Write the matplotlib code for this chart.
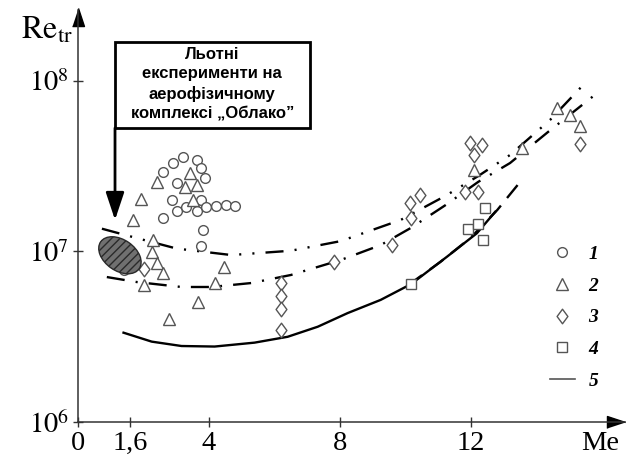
import matplotlib
matplotlib.use('Agg')
import matplotlib.pyplot as plt
from matplotlib.lines import Line2D
from matplotlib.patches import Ellipse, Rectangle
from matplotlib.path import Path
from matplotlib.transforms import ScaledTranslation
import numpy as np

plt.rcParams['mathtext.fontset'] = 'stix'
plt.rcParams['lines.scale_dashes'] = False
plt.rcParams['hatch.linewidth'] = 1.0

# series 1 (circles): Mach number and Re_tr (x 1e7)
circ_me = [2.60, 2.91, 3.21, 3.62, 3.77, 3.87, 3.01, 2.86, 3.01, 3.31,
           3.62, 3.77, 3.92, 4.22, 4.53, 4.80, 2.60, 3.82, 3.77, 1.40]
circ_re = [2.94, 3.29, 3.57, 3.44, 3.08, 2.69, 2.51, 2.00, 1.73, 1.83,
           1.73, 2.00, 1.83, 1.86, 1.88, 1.86, 1.57, 1.34, 1.07, 0.778]

# series 2 (triangles)
tri_me = [3.41, 3.26, 3.62, 3.52, 2.40, 1.92, 1.69, 2.30, 2.27, 2.40, 2.60,
          2.02, 4.47, 4.17, 3.67, 2.78, 14.62, 15.02, 15.32, 13.55, 12.08]
tri_re = [2.88, 2.40, 2.45, 2.00, 2.56, 2.02, 1.53, 1.17, 0.998, 0.861, 0.745,
          0.637, 0.815, 0.650, 0.506, 0.402, 6.92, 6.34, 5.41, 4.03, 3.01]

# series 3 (diamonds)
dia_me = [2.00, 6.20, 6.20, 6.20, 6.20, 7.82, 9.60, 10.15, 10.43, 10.18,
          11.98, 12.33, 12.10, 11.82, 12.20, 15.32]
dia_re = [0.787, 0.650, 0.548, 0.458, 0.347, 0.871, 1.09, 1.93, 2.14, 1.57,
          4.32, 4.22, 3.68, 2.24, 2.24, 4.27]

# series 4 (squares)
sq_me = [10.17, 11.90, 12.22, 12.36, 12.43]
sq_re = [0.644, 1.36, 1.45, 1.16, 1.79]

# curve 5 (solid)
c5_me = [1.39, 2.25, 3.16, 4.17, 5.39, 6.40, 7.32, 8.23, 9.24, 10.17, 11.27, 12.18, 12.74]
c5_re = [0.334, 0.296, 0.279, 0.277, 0.292, 0.316, 0.362, 0.435, 0.520, 0.644, 0.933, 1.28, 1.71]

# upper dash-dot-dot curve
ca_me = [0.73, 1.64, 3.01, 4.68, 6.50, 8.02, 9.85, 11.22, 12.22, 13.19, 14.41, 15.56]
ca_re = [1.36, 1.22, 1.04, 0.953, 1.01, 1.15, 1.53, 2.12, 2.77, 3.68, 5.90, 10.1]

# lower dash-dot curve
cb_me = [0.88, 1.79, 3.16, 4.07, 5.29, 6.50, 8.02, 9.24, 10.15, 11.22, 12.22, 13.19, 14.35, 15.93]
cb_re = [0.708, 0.662, 0.619, 0.619, 0.653, 0.728, 0.891, 1.09, 1.37, 1.87, 2.56, 3.30, 5.02, 8.73]

# long-dash curve
cc_me = [10.09, 11.06, 11.98, 12.80, 13.50]
cc_re = [0.637, 0.867, 1.20, 1.75, 2.56]

x_ticks = [0, 1.6, 4, 8, 12]
x_labels = ['0', '1,6', '4', '8', '12']
y_ticks = [1e6, 1e7, 1e8]
y_labels = ['$10^6$', '$10^7$', '$10^8$']

box_text = 'Льотні\nексперименти на\nаерофізичному\nкомплексі „Облако”'


def re(vals):
    return np.array(vals) * 1e7


fig = plt.figure(figsize=(6.26, 4.62), dpi=100)
ax = fig.add_axes([78 / 626, 40 / 462, 547 / 626, 412 / 462])
ax.set_yscale('log')
ax.set_xlim(0, 16.7)
ax.set_ylim(1e6, 10 ** 8.416)

# open diamond a bit wider than matplotlib's thin one
diamond = Path([(0, 0.5), (0.37, 0), (0, -0.5), (-0.37, 0), (0, 0.5)], closed=True)

mk = dict(linestyle='none', markerfacecolor='white', markeredgecolor='#555555',
          markeredgewidth=1.0, zorder=3)
ax.plot(circ_me, re(circ_re), marker='o', markersize=7, **mk)
ax.plot(tri_me, re(tri_re), marker='^', markersize=8, **mk)
ax.plot(dia_me, re(dia_re), marker=diamond, markersize=10.5, **mk)
ax.plot(sq_me, re(sq_re), marker='s', markersize=7.5, **mk)

ax.plot(c5_me, re(c5_re), color='black', lw=1.7, zorder=2)
ax.plot(ca_me, re(ca_re), color='black', lw=1.7, zorder=2,
        linestyle=(0, (13, 8, 1.5, 8, 1.5, 8)))
ax.plot(cb_me, re(cb_re), color='black', lw=1.7, zorder=2,
        linestyle=(0, (13, 8, 1.5, 8)))
ax.plot(cc_me, re(cc_re), color='black', lw=1.7, zorder=2,
        linestyle=(0, (12, 7)))

# hatched area of flight experiments
blob_tr = fig.dpi_scale_trans + ScaledTranslation(1.28, 0.95e7, ax.transData)
blob = Ellipse((0, 0), 0.47, 0.31, angle=-35, transform=blob_tr,
               facecolor='#707070', edgecolor='#2a2a2a', hatch='////',
               lw=1.0, zorder=4)
ax.add_patch(blob)

# text box with arrow
rect = Rectangle((1.13, 5.3e7), 5.95, 1.69e8 - 5.3e7, fill=False,
                 edgecolor='black', lw=2, zorder=5, clip_on=False)
ax.add_patch(rect)
ax.text(4.1, 9.6e7, box_text, ha='center', va='center', fontsize=12,
        fontweight='bold', family='Liberation Sans', linespacing=1.35, zorder=5)
ax.annotate('', xy=(1.13, 1.53e7), xytext=(1.13, 5.3e7),
            arrowprops=dict(arrowstyle='-|>,head_length=1.2,head_width=0.4',
                            mutation_scale=14, lw=2, color='black',
                            shrinkA=0, shrinkB=0), zorder=5)

# axes with arrows
for s in ['top', 'right']:
    ax.spines[s].set_visible(False)
for s in ['left', 'bottom']:
    ax.spines[s].set_color('#333333')
    ax.spines[s].set_linewidth(1.1)
head_up = [(-0.33, -0.5), (0.33, -0.5), (0, 0.5)]
head_right = [(-0.5, -0.33), (-0.5, 0.33), (0.5, 0)]
ax.plot(1, 0, marker=head_right, color='black', markersize=13, clip_on=False,
        transform=ax.transAxes + ScaledTranslation(-0.09, 0, fig.dpi_scale_trans))
ax.plot(0, 1, marker=head_up, color='black', markersize=13, clip_on=False,
        transform=ax.transAxes + ScaledTranslation(0, -0.07, fig.dpi_scale_trans))

ax.set_xticks(x_ticks)
ax.set_xticklabels(x_labels)
ax.set_yticks(y_ticks)
ax.set_yticklabels(y_labels)
ax.yaxis.set_minor_locator(matplotlib.ticker.NullLocator())
ax.tick_params(direction='inout', length=7, width=1, color='#333333',
               labelsize=20.5, pad=3)
for lab in ax.get_xticklabels() + ax.get_yticklabels():
    lab.set_family('Liberation Serif')

fig.text(600 / 626, 1 - 443 / 462, 'Me', ha='center', va='center',
         fontsize=20.5, family='Liberation Serif')
fig.text(47 / 626, 1 - 30 / 462, r'$\mathrm{Re}_{\mathrm{tr}}$', ha='center',
         va='center', fontsize=23)

# legend
hs = [Line2D([], [], marker='o', markersize=7, **mk),
      Line2D([], [], marker='^', markersize=8, **mk),
      Line2D([], [], marker=diamond, markersize=10.5, **mk),
      Line2D([], [], marker='s', markersize=7.5, **mk),
      Line2D([], [], color='#555555', lw=1.2)]
leg = fig.legend(hs, ['1', '2', '3', '4', '5'], loc='upper left',
                 bbox_to_anchor=(532 / 626, 1 - 228 / 462), frameon=False,
                 prop={'family': 'Liberation Serif', 'style': 'italic',
                       'weight': 'bold', 'size': 14},
                 handlelength=1.3, handletextpad=0.7, labelspacing=0.72)

fig.savefig('out.png', dpi=100)
